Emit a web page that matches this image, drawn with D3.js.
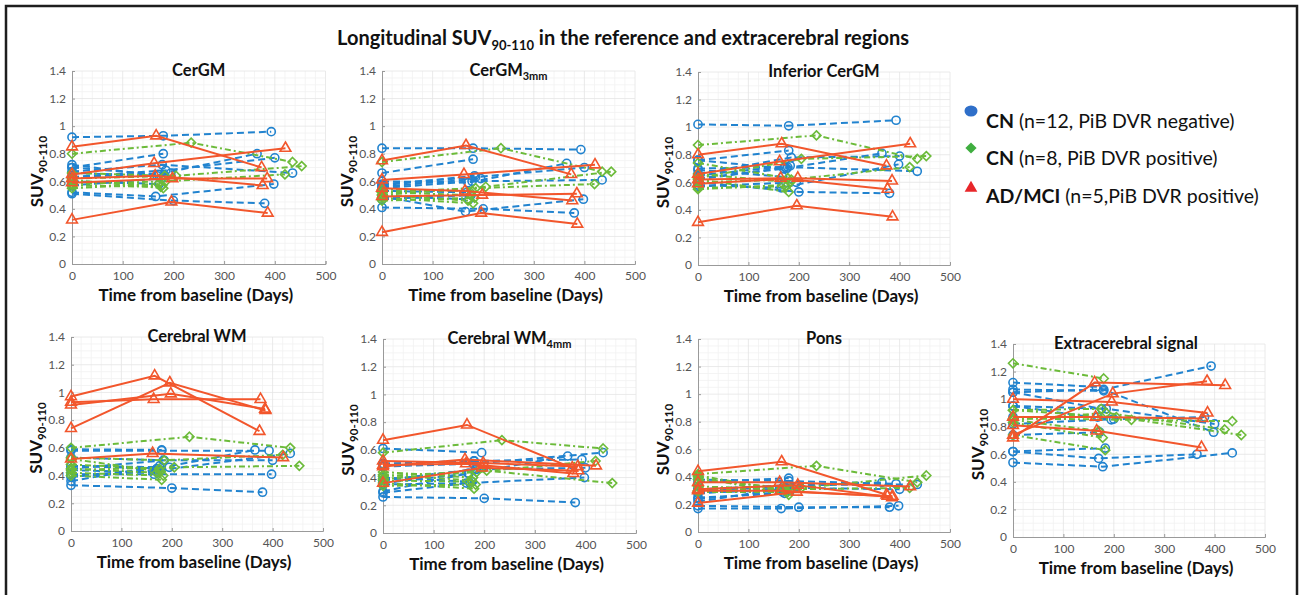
<!DOCTYPE html>
<html lang="en">
<head>
<meta charset="UTF-8">
<title>Longitudinal SUV</title>
<script src="https://d3js.org/d3.v7.min.js"></script>
<style>
  body { margin: 0; background: #fff; }
  svg { font-family: Lato, "Open Sans", sans-serif; }
</style>
</head>
<body>
<div id="chart"></div>
<script>
// scan days per subject (shared by all regions)
const blueDays = [[0,180,393],[0,170,365],[0,185,400],[0,178,435],[0,165,398],[0,200,380],[0,180],[0,172],[0,183],[0,168],[0,195],[0,176]];
const greenDays = [[0,235,435],[0,205,453],[0,185,420],[0,180],[0,175],[0,183],[0,178],[0,170]];
const redDays = [[0,166,374],[0,196,386],[0,162,421],[0,198,385],[0,164,376]];

// SUV values per region
const cergmBlue = [[0.92,0.93,0.96],[0.70,0.65,0.80],[0.63,0.68,0.77],[0.67,0.72,0.66],[0.52,0.49,0.58],[0.51,0.46,0.44],[0.70,0.80],[0.60,0.58],[0.66,0.64],[0.72,0.64],[0.63,0.66],[0.57,0.62]];
const cergmGreen = [[0.80,0.88,0.74],[0.62,0.64,0.71],[0.58,0.60,0.65],[0.61,0.55],[0.57,0.56],[0.66,0.64],[0.60,0.57],[0.55,0.58]];
const cergmRed = [[0.85,0.93,0.70],[0.32,0.45,0.37],[0.65,0.73,0.84],[0.59,0.62,0.62],[0.62,0.64,0.57]];

const cergm3Blue = [[0.84,0.84,0.83],[0.60,0.59,0.73],[0.58,0.63,0.70],[0.55,0.60,0.61],[0.49,0.38,0.47],[0.41,0.40,0.37],[0.66,0.76],[0.49,0.47],[0.57,0.64],[0.53,0.52],[0.56,0.62],[0.47,0.50]];
const cergm3Green = [[0.74,0.84,0.67],[0.50,0.56,0.67],[0.52,0.55,0.58],[0.48,0.44],[0.52,0.50],[0.46,0.48],[0.54,0.53],[0.50,0.46]];
const cergm3Red = [[0.75,0.86,0.65],[0.23,0.37,0.29],[0.61,0.65,0.72],[0.49,0.50,0.51],[0.55,0.53,0.46]];

const infBlue = [[1.02,1.01,1.05],[0.76,0.70,0.81],[0.66,0.78,0.79],[0.62,0.71,0.68],[0.58,0.56,0.73],[0.60,0.53,0.52],[0.76,0.83],[0.70,0.71],[0.65,0.72],[0.69,0.64],[0.57,0.60],[0.63,0.70]];
const infGreen = [[0.87,0.94,0.77],[0.63,0.77,0.79],[0.60,0.62,0.71],[0.62,0.53],[0.56,0.57],[0.66,0.60],[0.74,0.63],[0.55,0.58]];
const infRed = [[0.80,0.88,0.72],[0.31,0.43,0.35],[0.66,0.75,0.88],[0.59,0.63,0.61],[0.62,0.63,0.55]];

const wmBlue = [[0.58,0.58,0.58],[0.47,0.45,0.585],[0.45,0.51,0.51],[0.39,0.44,0.56],[0.41,0.41,0.41],[0.33,0.31,0.28],[0.59,0.585],[0.44,0.42],[0.53,0.51],[0.40,0.44],[0.47,0.46],[0.36,0.47]];
const wmGreen = [[0.60,0.68,0.60],[0.44,0.46,0.47],[0.53,0.51,0.55],[0.40,0.37],[0.48,0.45],[0.42,0.40],[0.52,0.43],[0.45,0.42]];
const wmRed = [[0.97,1.12,0.72],[0.74,1.07,0.87],[0.52,0.56,0.53],[0.91,0.99,0.88],[0.93,0.95,0.95]];

const wm4Blue = [[0.50,0.52,0.53],[0.36,0.43,0.555],[0.38,0.46,0.47],[0.48,0.50,0.58],[0.29,0.36,0.40],[0.26,0.25,0.22],[0.50,0.52],[0.35,0.36],[0.38,0.46],[0.30,0.43],[0.61,0.58],[0.40,0.37]];
const wm4Green = [[0.58,0.67,0.61],[0.41,0.45,0.36],[0.39,0.44,0.52],[0.36,0.32],[0.42,0.38],[0.34,0.35],[0.44,0.40],[0.38,0.37]];
const wm4Red = [[0.67,0.78,0.47],[0.36,0.47,0.45],[0.48,0.53,0.485],[0.52,0.505,0.48],[0.49,0.50,0.43]];

const ponsBlue = [[0.38,0.37,0.35],[0.30,0.33,0.36],[0.28,0.32,0.31],[0.31,0.34,0.345],[0.17,0.17,0.19],[0.19,0.18,0.18],[0.36,0.39],[0.25,0.28],[0.29,0.30],[0.24,0.29],[0.31,0.33],[0.22,0.32]];
const ponsGreen = [[0.42,0.48,0.36],[0.30,0.32,0.41],[0.30,0.31,0.32],[0.40,0.27],[0.41,0.30],[0.33,0.31],[0.29,0.29],[0.38,0.32]];
const ponsRed = [[0.44,0.51,0.27],[0.21,0.29,0.26],[0.36,0.36,0.33],[0.31,0.34,0.25],[0.30,0.30,0.26]];

const extraBlue = [[1.05,1.07,1.24],[0.62,0.57,0.60],[0.95,0.93,0.82],[0.54,0.51,0.61],[1.12,1.09,0.76],[0.82,0.855,0.87],[1.07,1.06],[0.74,0.76],[0.62,0.645],[0.87,0.87],[0.95,0.85],[1.05,0.93]];
const extraGreen = [[0.86,0.85,0.84],[0.92,0.87,0.74],[0.85,0.90,0.78],[1.26,1.15],[0.92,0.93],[0.74,0.63],[0.83,0.72],[0.85,0.77]];
const extraRed = [[0.81,0.77,0.65],[1.00,0.98,0.90],[0.72,1.12,1.10],[0.74,1.04,1.13],[0.87,0.87,0.86]];

const xTicks = [0, 100, 200, 300, 400, 500];
const yTicks = [0, 0.2, 0.4, 0.6, 0.8, 1, 1.2, 1.4];
const legendLabels = [
  ["CN", " (n=12, PiB DVR negative)"],
  ["CN", " (n=8, PiB DVR positive)"],
  ["AD/MCI", " (n=5,PiB DVR positive)"]
];

const width = 1300, height = 595;
const colors = { blue: "#2183cf", green: "#6cbb3a", red: "#f2562c" };

const svg = d3.select("#chart").append("svg")
  .attr("width", width).attr("height", height);

// outer frame
svg.append("rect")
  .attr("x", 6).attr("y", 6).attr("width", 1291).attr("height", 600)
  .attr("fill", "none").attr("stroke", "#1e1e1e").attr("stroke-width", 2.5);

// main title
const title = svg.append("text")
  .attr("x", 623).attr("y", 45)
  .attr("text-anchor", "middle")
  .attr("font-size", 20).attr("font-weight", "bold").attr("fill", "#111");
title.append("tspan").text("Longitudinal SUV");
title.append("tspan").attr("font-size", 13).attr("dy", 5).text("90-110");
title.append("tspan").attr("dy", -5).text(" in the reference and extracerebral regions");

const panels = [
  { name: "CerGM", sub: "", left: 72, right: 325.5, bottom: 264, top: 71, dx: 0, blue: cergmBlue, green: cergmGreen, red: cergmRed },
  { name: "CerGM", sub: "3mm", left: 382, right: 635, bottom: 264, top: 71, dx: 0, blue: cergm3Blue, green: cergm3Green, red: cergm3Red },
  { name: "Inferior CerGM", sub: "", left: 698, right: 950, bottom: 265, top: 72, dx: 0, blue: infBlue, green: infGreen, red: infRed },
  { name: "Cerebral WM", sub: "", left: 71, right: 323, bottom: 531, top: 337, dx: 0, blue: wmBlue, green: wmGreen, red: wmRed },
  { name: "Cerebral WM", sub: "4mm", left: 383, right: 636, bottom: 533, top: 339, dx: 0, blue: wm4Blue, green: wm4Green, red: wm4Red },
  { name: "Pons", sub: "", left: 698, right: 950, bottom: 532, top: 339, dx: 0, blue: ponsBlue, green: ponsGreen, red: ponsRed },
  { name: "Extracerebral signal", sub: "", left: 1013, right: 1265, bottom: 537, top: 344, dx: -13, blue: extraBlue, green: extraGreen, red: extraRed }
];

const triangle = d3.symbol().type(d3.symbolTriangle).size(50);
const diamond = d3.symbol().type(d3.symbolDiamond2).size(52);
const circle = d3.symbol().type(d3.symbolCircle).size(52);

panels.forEach(p => {
  const x = d3.scaleLinear().domain([0, 500]).range([p.left, p.right]);
  const y = d3.scaleLinear().domain([0, 1.4]).range([p.bottom, p.top]);
  const g = svg.append("g");

  // minor grid
  g.append("g").selectAll("line").data(d3.range(0, 501, 20).filter(d => d % 100))
    .join("line")
    .attr("x1", d => x(d)).attr("x2", d => x(d))
    .attr("y1", y(0)).attr("y2", y(1.4))
    .attr("stroke", "#f1f1f1").attr("stroke-width", 0.8);
  g.append("g").selectAll("line").data(d3.range(0.05, 1.41, 0.05).filter(d => Math.abs(d / 0.2 - Math.round(d / 0.2)) > 0.01))
    .join("line")
    .attr("x1", x(0)).attr("x2", x(500))
    .attr("y1", d => y(d)).attr("y2", d => y(d))
    .attr("stroke", "#f1f1f1").attr("stroke-width", 0.8);
  // major grid
  g.append("g").selectAll("line").data(xTicks.slice(1))
    .join("line")
    .attr("x1", d => x(d)).attr("x2", d => x(d))
    .attr("y1", y(0)).attr("y2", y(1.4))
    .attr("stroke", "#e4e4e4").attr("stroke-width", 0.8);
  g.append("g").selectAll("line").data(yTicks.slice(1))
    .join("line")
    .attr("x1", x(0)).attr("x2", x(500))
    .attr("y1", d => y(d)).attr("y2", d => y(d))
    .attr("stroke", "#e4e4e4").attr("stroke-width", 0.8);

  // axes
  const xAxis = g.append("g").attr("transform", `translate(0,${y(0)})`)
    .call(d3.axisBottom(x).tickValues(xTicks).tickSize(-3).tickPadding(7));
  const yAxis = g.append("g").attr("transform", `translate(${x(0)},0)`)
    .call(d3.axisLeft(y).tickValues(yTicks).tickSize(-3).tickPadding(6)
      .tickFormat(d => String(+d.toFixed(1))));
  [xAxis, yAxis].forEach(a => {
    a.select(".domain").attr("stroke", "#9a9a9a");
    a.selectAll(".tick line").attr("stroke", "#9a9a9a");
    a.selectAll(".tick text").attr("fill", "#555").attr("font-size", 12)
      .attr("font-family", "Lato, 'Open Sans', sans-serif");
  });

  // series
  const line = d3.line().x(d => x(d[0])).y(d => y(d[1]));
  const groups = [
    { key: "blue", days: blueDays, vals: p.blue, dash: "7,4", sym: circle },
    { key: "green", days: greenDays, vals: p.green, dash: "6,3,2,3", sym: diamond },
    { key: "red", days: redDays, vals: p.red, dash: null, sym: triangle }
  ];
  groups.forEach(gr => {
    gr.vals.forEach((vals, i) => {
      const pts = vals.map((v, j) => [gr.days[i][j], v]);
      g.append("path").datum(pts)
        .attr("d", line)
        .attr("fill", "none")
        .attr("stroke", colors[gr.key])
        .attr("stroke-width", 2)
        .attr("stroke-dasharray", gr.dash);
      g.append("g").selectAll("path").data(pts).join("path")
        .attr("d", gr.sym())
        .attr("fill", "none")
        .attr("stroke", colors[gr.key])
        .attr("stroke-width", 1.6)
        .attr("transform", d => `translate(${x(d[0])},${y(d[1])})`);
    });
  });

  // panel title
  const t = g.append("text")
    .attr("x", (p.left + p.right) / 2 + p.dx).attr("y", p.top + 5)
    .attr("text-anchor", "middle")
    .attr("font-size", 16.5).attr("font-weight", "bold").attr("fill", "#111");
  t.append("tspan").text(p.name);
  if (p.sub) t.append("tspan").attr("font-size", 11).attr("dy", 4).text(p.sub);

  // axis labels
  g.append("text")
    .attr("x", (p.left + p.right) / 2 - 3).attr("y", p.bottom + 37)
    .attr("text-anchor", "middle")
    .attr("font-size", 17).attr("font-weight", "bold").attr("fill", "#111")
    .text("Time from baseline (Days)");
  const yl = g.append("text")
    .attr("transform", `translate(${p.left - 29},${(p.top + p.bottom) / 2 + 4}) rotate(-90)`)
    .attr("text-anchor", "middle")
    .attr("font-size", 17).attr("font-weight", "bold").attr("fill", "#111");
  yl.append("tspan").text("SUV");
  yl.append("tspan").attr("font-size", 11.5).attr("dy", 4).text("90-110");
});

// legend
const legend = svg.append("g");
const legendY = [111, 148, 188];
const legendBase = [128, 165, 203];
legend.append("ellipse").attr("cx", 971).attr("cy", legendY[0]).attr("rx", 6.5).attr("ry", 5.5)
  .attr("fill", "#2f6fc9");
legend.append("path").attr("d", d3.symbol().type(d3.symbolDiamond2).size(80)())
  .attr("transform", `translate(971,${legendY[1]})`).attr("fill", "#3fae3f");
legend.append("path").attr("d", d3.symbol().type(d3.symbolTriangle).size(70)())
  .attr("transform", `translate(971,${legendY[2]})`).attr("fill", "#e8262a");
legendLabels.forEach((l, i) => {
  const tx = legend.append("text").attr("x", 986).attr("y", legendBase[i])
    .attr("font-size", 19.5).attr("fill", "#111");
  tx.append("tspan").attr("font-weight", "bold").text(l[0]);
  tx.append("tspan").text(l[1]);
});
</script>
</body>
</html>
